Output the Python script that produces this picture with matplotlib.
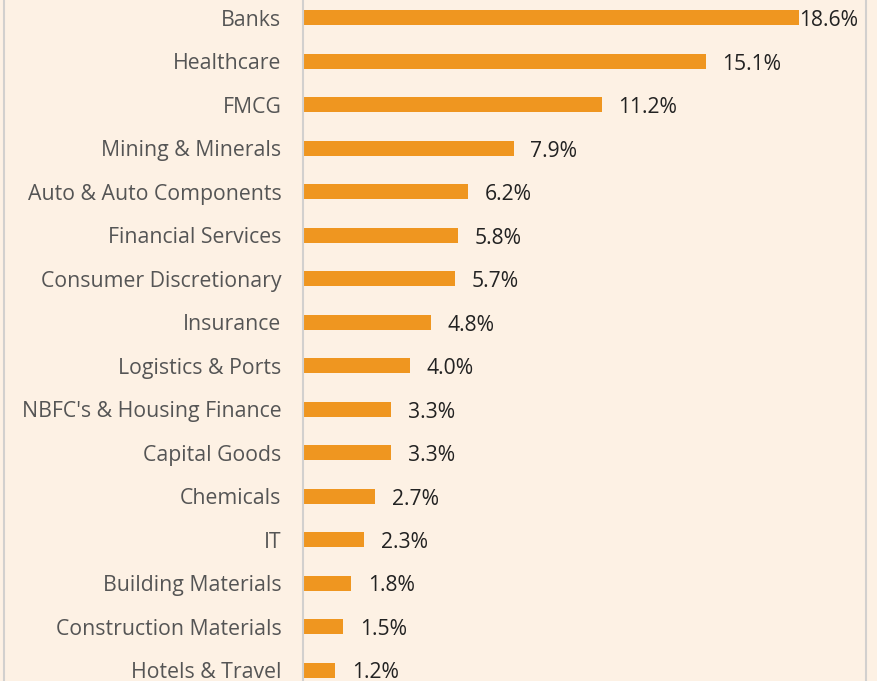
import matplotlib.pyplot as plt
from matplotlib.lines import Line2D

sectors = ["Banks", "Healthcare", "FMCG", "Mining & Minerals",
           "Auto & Auto Components", "Financial Services",
           "Consumer Discretionary", "Insurance", "Logistics & Ports",
           "NBFC's & Housing Finance", "Capital Goods", "Chemicals", "IT",
           "Building Materials", "Construction Materials", "Hotels & Travel"]
weights = [18.6, 15.1, 11.2, 7.9, 6.2, 5.8, 5.7, 4.8, 4.0, 3.3, 3.3, 2.7,
           2.3, 1.8, 1.5, 1.2]

bg = "#FDF1E4"
bar_col = "#EF9620"
line_col = "#D2D0CE"

plt.rcParams['font.family'] = ['Open Sans', 'DejaVu Sans']

fig = plt.figure(figsize=(8.77, 6.81), dpi=100, facecolor=bg)
ax = fig.add_axes([303 / 877, 0, (866 - 303) / 877, 1])
ax.set_facecolor(bg)

pos = list(range(len(sectors)))
ax.barh(pos, weights, height=0.345, color=bar_col)

ax.set_yticks(pos)
ax.set_yticklabels(sectors, fontsize=15.3, color="#555555")
ax.tick_params(axis='y', length=0, pad=15.5)
ax.set_xticks([])

ax.set_xlim(0, 563 / 26.67)
ax.set_ylim(15.25, -0.414)

for s in ['top', 'bottom']:
    ax.spines[s].set_visible(False)
for s in ['left', 'right']:
    ax.spines[s].set_color(line_col)
    ax.spines[s].set_linewidth(1.5)

top = max(weights)
for y, v in zip(pos, weights):
    off = 0 if v == top else 12
    ax.annotate(f"{v:.1f}%", xy=(v, y), xytext=(off, -2),
                textcoords='offset points', va='center', ha='left',
                fontsize=15.2, color="#222222")

# outer border on the left
fig.add_artist(Line2D([3.5 / 877, 3.5 / 877], [0, 1], color=line_col,
                      linewidth=1.5, transform=fig.transFigure))

fig.savefig("out.png", dpi=100, facecolor=bg)
